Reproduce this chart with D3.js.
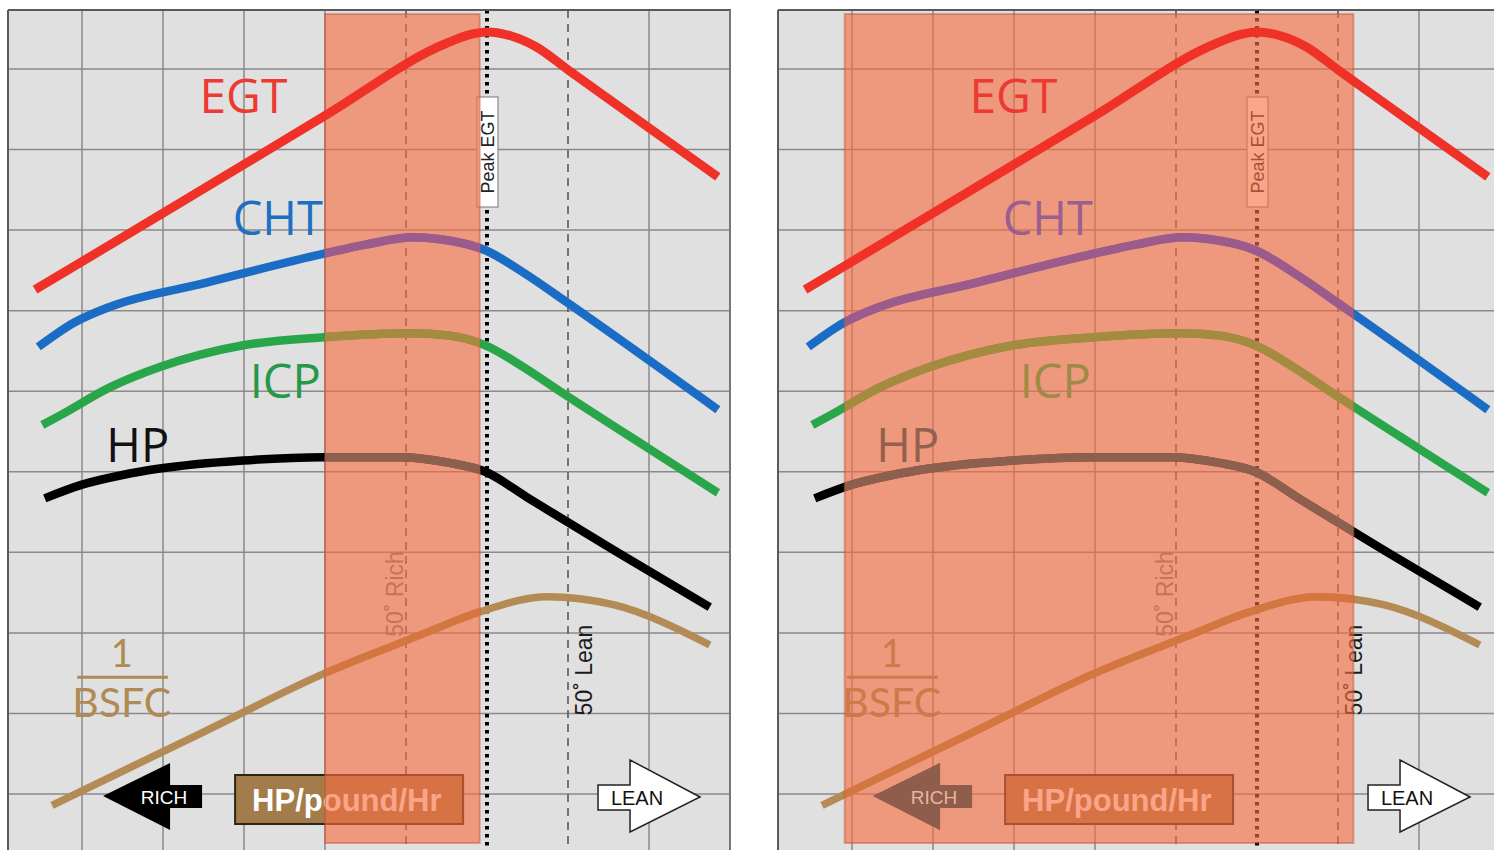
<!DOCTYPE html>
<html><head><meta charset="utf-8">
<script src="https://cdn.jsdelivr.net/npm/d3@7"></script>
<style>body{margin:0;background:#fff;} svg{display:block;}</style>
</head><body>
<svg id="c" width="1494" height="850"></svg>
<script>
// ---- data (grid units: x = mixture column, y = relative value) ----
const xGrid = [1, 2, 3, 4, 5, 6, 7, 8];
const yGrid = [0, 1, 2, 3, 4, 5, 6, 7, 8, 9];
const peakX = 6, richX = 5, leanX = 7;
const EGT  = [[0.42,6.26],[2.0,7.21],[4.0,8.42],[5.5,9.32],[5.8,9.43],[6.0,9.46],[6.3,9.41],[6.6,9.28],[7.0,8.99],[8.0,8.27],[8.85,7.66]];
const CHT  = [[0.46,5.55],[0.9,5.85],[1.35,6.05],[2.46,6.33],[4.0,6.71],[4.5,6.82],[5.1,6.91],[5.4,6.89],[5.98,6.75],[6.5,6.44],[6.99,6.10],[8.85,4.77]];
const ICP  = [[0.51,4.58],[0.73,4.70],[1.35,5.05],[1.96,5.30],[2.99,5.57],[3.98,5.67],[5.05,5.72],[5.54,5.69],[5.98,5.57],[6.45,5.30],[6.90,5.00],[8.01,4.28],[8.85,3.74]];
const HP   = [[0.54,3.67],[1.0,3.84],[1.5,3.96],[1.96,4.04],[2.99,4.14],[3.98,4.18],[4.93,4.18],[5.54,4.11],[5.98,4.00],[6.5,3.68],[7.56,3.03],[8.75,2.32]];
const BSFC = [[0.63,-0.14],[2.46,0.75],[4.0,1.50],[5.17,1.97],[5.91,2.26],[6.74,2.45],[7.56,2.35],[8.75,1.85]];
const shadeLeft  = [4.0, 5.91];
const shadeRight = [0.91, 7.19];
const panelOffsets = [0, 770];

// ---- scales ----
const x = d3.scaleLinear().domain([0, 9]).range([1, 730]);
const y = d3.scaleLinear().domain([0, 9]).range([794, 69]);
const line = d3.line().x(d => x(d[0])).y(d => y(d[1])).curve(d3.curveMonotoneX);

const svg = d3.select('#c');
const defs = svg.append('defs');
const W = 1494, H = 850;
const FS = "'Open Sans','Noto Sans',sans-serif";
const LT = "Lato,'Open Sans',sans-serif";
const HV = "'Liberation Sans',Arial,sans-serif";

const plain  = {EGT:'#ef3127', CHT:'#1a6cc4', ICP:'#2aa64a', HP:'#000000', BSFC:'#b58b55',
                tCHT:'#1d6fc2', tICP:'#27984a', tHP:'#111111', tBSFC:'#b08a55', arrow:'#000000', tRich:'#ffffff'};
const shaded = {CHT:'#9b5b8d', ICP:'#a38b3f', HP:'#8d5f4e', BSFC:'#d4763f',
                tCHT:'#9a5f90', tICP:'#9f8a45', tHP:'#93604f', tBSFC:'#cc7a4a', arrow:'#8f5d4c', tRich:'#e9b4a2'};
const RICH_PATH = 'M0,0 L67,-33 L67,-11 L99,-11 L99,12 L67,12 L67,34 Z';

function drawLines(g, pal) {
  [['CHT', CHT], ['ICP', ICP], ['HP', HP], ['BSFC', BSFC]].forEach(([k, d]) => {
    g.append('path').datum(d).attr('d', line).attr('fill', 'none')
      .attr('stroke', pal[k]).attr('stroke-width', k === 'BSFC' ? 7.5 : 8.5);
  });
  g.append('path').attr('transform', `translate(${x(1.26)},796)`).attr('d', RICH_PATH).attr('fill', pal.arrow);
}

function drawLabels(g, sx0, sx1) {
  const pick = (x0, w, key) => (x0 >= sx0 && x0 + w <= sx1) ? shaded[key] : plain[key];
  g.append('text').attr('x', x(2.86)).attr('y', y(6.94)).attr('font-family', FS).attr('font-size', 47)
    .attr('fill', pick(x(2.86), 90, 'tCHT')).text('CHT');
  g.append('text').attr('x', x(3.07)).attr('y', y(4.92)).attr('font-family', FS).attr('font-size', 47)
    .attr('fill', pick(x(3.07), 70, 'tICP')).text('ICP');
  g.append('text').attr('x', x(1.30)).attr('y', y(4.12)).attr('font-family', FS).attr('font-size', 47)
    .attr('fill', pick(x(1.30), 60, 'tHP')).text('HP');
  const fc = pick(x(0.93), 94, 'tBSFC');
  g.append('text').attr('x', x(1.49)).attr('y', 667).attr('text-anchor', 'middle')
    .attr('font-family', LT).attr('font-size', 38).attr('fill', fc).text('1');
  g.append('line').attr('x1', x(0.94)).attr('x2', x(2.06)).attr('y1', y(1.45)).attr('y2', y(1.45))
    .attr('stroke', fc).attr('stroke-width', 3);
  g.append('text').attr('x', x(1.49)).attr('y', 717).attr('text-anchor', 'middle')
    .attr('font-family', LT).attr('font-size', 41).attr('fill', fc).text('BSFC');
  const rx = x(1.26);
  g.append('text').attr('x', rx + 61).attr('y', 797).attr('text-anchor', 'middle').attr('dominant-baseline', 'central')
    .attr('font-family', HV).attr('font-size', 19).attr('fill', pick(rx, 99, 'tRich')).text('RICH');
}

function drawPanel(idx, offset, shade) {
  const left = 8, top = 10;
  const right = Math.min(x(9) + 1, W - offset);
  defs.append('clipPath').attr('id', 'clip' + idx)
    .append('rect').attr('x', left).attr('y', top).attr('width', right - left).attr('height', H - top);
  const sx0 = x(shade[0]), sx1 = x(shade[1]), sy0 = 14, sh = 829;
  defs.append('clipPath').attr('id', 'shade' + idx)
    .append('rect').attr('x', sx0).attr('y', sy0).attr('width', sx1 - sx0).attr('height', sh);

  const outer = svg.append('g').attr('transform', `translate(${offset},0)`);
  const g = outer.append('g').attr('clip-path', `url(#clip${idx})`);

  g.append('rect').attr('x', left).attr('y', top).attr('width', right - left).attr('height', H - top).attr('fill', '#e0e0e0');

  // grid
  g.selectAll('.hg').data(yGrid).join('line')
    .attr('x1', left).attr('x2', right).attr('y1', d => y(d)).attr('y2', d => y(d))
    .attr('stroke', '#8a8a8a').attr('stroke-width', 1.5);
  g.selectAll('.vg').data(xGrid.filter(d => d !== peakX && d !== richX && d !== leanX)).join('line')
    .attr('x1', d => x(d)).attr('x2', d => x(d)).attr('y1', top).attr('y2', H)
    .attr('stroke', '#8a8a8a').attr('stroke-width', 1.5);
  g.selectAll('.dg').data([richX, leanX]).join('line')
    .attr('x1', d => x(d)).attr('x2', d => x(d)).attr('y1', top).attr('y2', H)
    .attr('stroke', '#5a5a5a').attr('stroke-width', 1.6).attr('stroke-dasharray', '8,6');
  g.append('line').attr('x1', x(peakX)).attr('x2', x(peakX)).attr('y1', top).attr('y2', H)
    .attr('stroke', '#000').attr('stroke-width', 4).attr('stroke-dasharray', '3.5,4.5');

  // Peak EGT label
  const px = x(peakX);
  g.append('rect').attr('x', px - 10).attr('y', 97).attr('width', 21).attr('height', 110)
    .attr('fill', '#fff').attr('stroke', '#777').attr('stroke-width', 1);
  g.append('text').attr('transform', `translate(${px + 1},152) rotate(-90)`)
    .attr('text-anchor', 'middle').attr('dominant-baseline', 'central')
    .attr('font-family', HV).attr('font-size', 18).attr('fill', '#222').text('Peak EGT');

  // 50° labels
  g.append('text').attr('transform', `translate(${x(richX) - 11},594) rotate(-90)`)
    .attr('text-anchor', 'middle').attr('dominant-baseline', 'central')
    .attr('font-family', HV).attr('font-size', 23).attr('fill', '#7a7a7a').text('50˚ Rich');
  g.append('text').attr('transform', `translate(${x(leanX) + 16},670) rotate(-90)`)
    .attr('text-anchor', 'middle').attr('dominant-baseline', 'central')
    .attr('font-family', HV).attr('font-size', 23).attr('fill', '#1a1a1a').text('50˚ Lean');

  drawLines(g, plain);

  // HP/pound/Hr box
  g.append('rect').attr('x', x(2.89)).attr('y', 775).attr('width', 228).attr('height', 49)
    .attr('fill', '#a27c4a').attr('stroke', '#2e2416').attr('stroke-width', 2);
  g.append('text').attr('x', x(2.89) + 17).attr('y', 811)
    .attr('font-family', HV).attr('font-weight', 'bold').attr('font-size', 31).attr('fill', '#fff').text('HP/pound/Hr');

  // LEAN arrow
  const lx = x(8.63), ly = 797;
  g.append('path').attr('transform', `translate(${lx},${ly})`)
    .attr('d', 'M0,0 L-70,-37 L-70,-12 L-102,-12 L-102,13 L-70,13 L-70,35 Z')
    .attr('fill', '#fff').attr('stroke', '#222').attr('stroke-width', 1.5);
  g.append('text').attr('x', lx - 63).attr('y', ly + 1).attr('text-anchor', 'middle').attr('dominant-baseline', 'central')
    .attr('font-family', HV).attr('font-size', 20).attr('fill', '#111').text('LEAN');

  // shaded region on top
  g.append('rect').attr('x', sx0).attr('y', sy0).attr('width', sx1 - sx0).attr('height', sh)
    .attr('fill', 'rgb(247,108,64)').attr('fill-opacity', 0.62)
    .attr('stroke', 'rgb(190,80,50)').attr('stroke-opacity', 0.45).attr('stroke-width', 2);

  // series seen through the shade
  drawLines(g.append('g').attr('clip-path', `url(#shade${idx})`), shaded);
  drawLabels(g, sx0, sx1);

  // EGT above the shade
  g.append('path').datum(EGT).attr('d', line).attr('fill', 'none')
    .attr('stroke', plain.EGT).attr('stroke-width', 9);
  g.append('text').attr('x', x(2.45)).attr('y', y(8.45)).attr('font-family', FS).attr('font-size', 48)
    .attr('fill', '#ec3a33').text('EGT');

  // frame
  outer.append('line').attr('x1', left).attr('x2', right).attr('y1', top).attr('y2', top).attr('stroke', '#5a5a5a').attr('stroke-width', 2);
  outer.append('line').attr('x1', left).attr('x2', left).attr('y1', top).attr('y2', H).attr('stroke', '#5a5a5a').attr('stroke-width', 2);
  if (x(9) + offset < W) {
    outer.append('line').attr('x1', x(9)).attr('x2', x(9)).attr('y1', top).attr('y2', H).attr('stroke', '#777').attr('stroke-width', 2);
  }
}

drawPanel(0, panelOffsets[0], shadeLeft);
drawPanel(1, panelOffsets[1], shadeRight);
</script>
</body></html>
